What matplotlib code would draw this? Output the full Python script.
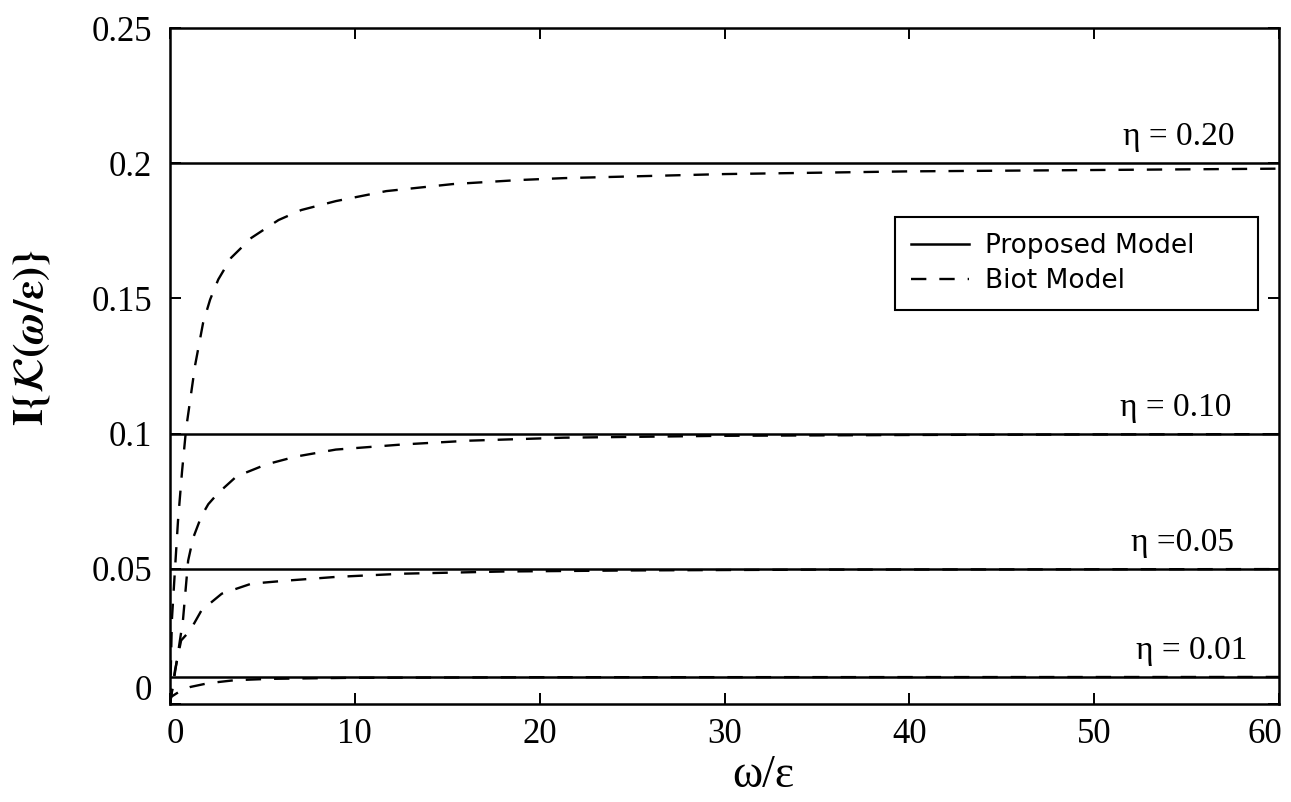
import numpy as np
import matplotlib
matplotlib.use("Agg")
import matplotlib.pyplot as plt
from matplotlib.transforms import ScaledTranslation

plt.rcParams['font.family'] = ['Liberation Serif', 'DejaVu Serif']
plt.rcParams['mathtext.fontset'] = 'stix'

# damping levels
etas = [0.20, 0.10, 0.05, 0.01]
eta_labels = [r"η = 0.20", r"η = 0.10", r"η =0.05", r"η = 0.01"]
label_x = [54.6, 54.4, 54.8, 55.3]

# Biot model curves, imaginary part vs frequency ratio
w_020 = [0, 0.1, 0.27, 0.43, 0.65, 0.87, 1.36, 1.79, 2.17, 2.61, 3.3, 4.4, 5.87, 7.1, 8.97, 11.7, 15.3, 18.9, 21.3, 30, 40, 50, 60]
k_020 = [0, 0.031, 0.05, 0.0676, 0.086, 0.1018, 0.1254, 0.141, 0.1496, 0.157, 0.165, 0.1724, 0.179, 0.1827, 0.186, 0.1897, 0.1923, 0.1938, 0.1945, 0.196, 0.197, 0.1975, 0.198]

w_010 = [0, 0.43, 0.7, 0.98, 1.25, 1.7, 2.07, 2.6, 3.6, 5.2, 6.8, 8.97, 12.6, 16.2, 21.3, 30, 40, 50, 60]
k_010 = [0, 0.0187, 0.031, 0.053, 0.0614, 0.0695, 0.0739, 0.078, 0.0842, 0.0886, 0.0915, 0.0941, 0.096, 0.0974, 0.0985, 0.0992, 0.0995, 0.0997, 0.0998]

w_005 = [0, 0.27, 0.6, 1.09, 1.7, 2.8, 4.4, 6.25, 8.97, 12.6, 18, 25, 35, 60]
k_005 = [0, 0.0125, 0.0235, 0.0272, 0.0346, 0.0408, 0.0445, 0.0456, 0.047, 0.0482, 0.049, 0.0494, 0.0497, 0.0499]

w_001 = [0, 0.05, 0.6, 1.1, 2.07, 3.5, 5.4, 10, 20, 60]
k_001 = [0, 0.0026, 0.005, 0.0063, 0.0077, 0.0088, 0.0093, 0.0097, 0.0099, 0.01]

biot_w = [w_020, w_010, w_005, w_001]
biot_k = [k_020, k_010, k_005, k_001]

fig = plt.figure(figsize=(12.91, 8.02), dpi=100)
ax = fig.add_axes([0.1317, 0.1222, 0.8590, 0.8428])

dash = (0, (6.5, 5.5))
for i, eta in enumerate(etas):
    ax.plot([0, 60], [eta, eta], color='black', lw=1.8,
            label='Proposed Model' if i == 0 else None)
    ax.plot(biot_w[i], biot_k[i], color='black', lw=1.7, linestyle=dash,
            label='Biot Model' if i == 0 else None)
    ax.text(label_x[i], eta + 0.0066, eta_labels[i], ha='center', va='baseline',
            fontsize=24)

ax.set_xlim(0, 60)
ax.set_ylim(0, 0.25)
ax.set_xticks([0, 10, 20, 30, 40, 50, 60])
ax.set_yticks([0, 0.05, 0.1, 0.15, 0.2, 0.25])
ax.set_yticklabels(['0', '0.05', '0.1', '0.15', '0.2', '0.25'])
ax.tick_params(direction='in', length=8, width=1.4, top=True, right=True,
               labelsize=25)
ax.tick_params(axis='y', pad=13)
ax.tick_params(axis='x', pad=10)
for s in ax.spines.values():
    s.set_linewidth(1.8)

# lift the zero label off the corner, pull the last x label inside
zero_lbl = ax.get_yticklabels()[0]
zero_lbl.set_transform(zero_lbl.get_transform() + ScaledTranslation(0, 0.16, fig.dpi_scale_trans))
last_lbl = ax.get_xticklabels()[-1]
last_lbl.set_transform(last_lbl.get_transform() + ScaledTranslation(-0.14, 0, fig.dpi_scale_trans))
first_lbl = ax.get_xticklabels()[0]
first_lbl.set_transform(first_lbl.get_transform() + ScaledTranslation(0.05, 0, fig.dpi_scale_trans))

ax.set_xlabel("ω/ε", fontsize=33)
ax.xaxis.set_label_coords(0.535, -0.075)
ax.set_ylabel(r"$\mathbf{I}\boldsymbol{\{\mathcal{K}(\omega/\varepsilon)\}}$", fontsize=31)
ax.yaxis.set_label_coords(-0.106, 0.543)

leg = ax.legend(loc='upper left', bbox_to_anchor=(0.654, 0.583, 0.327, 0.137),
                mode='expand', fancybox=False, framealpha=1, edgecolor='black',
                prop={'family': 'DejaVu Sans', 'size': 19}, handlelength=2.2,
                borderaxespad=0, labelspacing=0.35, handletextpad=0.6,
                borderpad=0.6)
leg.get_frame().set_linewidth(1.5)

fig.savefig("out.png", dpi=100)
